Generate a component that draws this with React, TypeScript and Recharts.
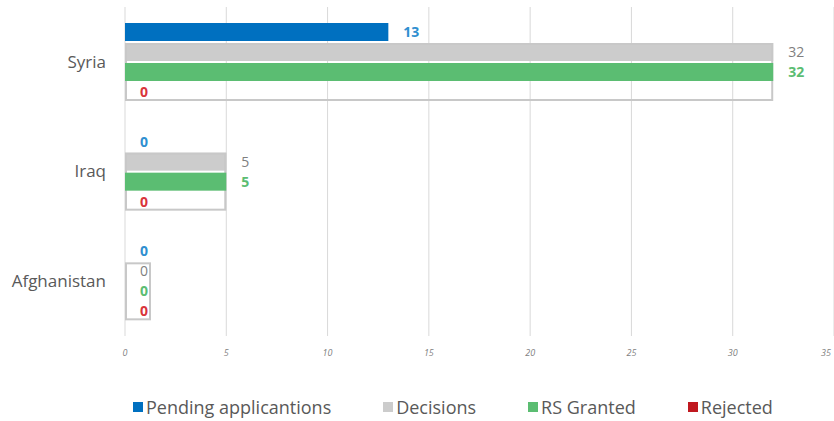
import React from "react"
import { BarChart, Bar, XAxis, YAxis, CartesianGrid } from "recharts"

const countries = ["Syria", "Iraq", "Afghanistan"]
const pending = [13, 0, 0]
const decisions = [32, 5, 0]
const granted = [32, 5, 0]
const rejected = [0, 0, 0]
const xTicks = [0, 5, 10, 15, 20, 25, 30, 35]

const series = [
  { key: "pending", name: "Pending applicantions", color: "#0070C0", label: "#2F8FD0", bold: true },
  { key: "decisions", name: "Decisions", color: "#CCCCCC", label: "#7F7F7F", bold: false },
  { key: "granted", name: "RS Granted", color: "#5BBD72", label: "#5BBD72", bold: true },
  { key: "rejected", name: "Rejected", color: "#C0181F", label: "#D9343A", bold: true },
]

const data = countries.map((c, i) => ({
  country: c,
  pending: pending[i],
  decisions: decisions[i],
  granted: granted[i],
  rejected: rejected[i],
}))

const BAR = 18
const GAP = 2
const FONT = "'Open Sans', sans-serif"

// bar + its value label; the decisions bar also gets a grey frame
// around the granted / rejected rows below it
const makeShape = (s: (typeof series)[number]) => (props: any) => {
  const { x, y, width, height, payload } = props
  const value = payload[s.key]
  const w = Math.max(width, 0)
  return (
    <g>
      {w > 0 && <rect x={x} y={y} width={w} height={height} fill={s.color} />}
      {s.key === "decisions" && (
        <rect
          x={x + 1}
          y={y + 1}
          width={Math.max(w, 26) - 2}
          height={height * 3 + GAP * 2 - 2}
          fill="none"
          stroke="#C8C8C8"
          strokeWidth={2}
        />
      )}
      <text
        x={x + w + 15}
        y={y + height / 2}
        dy="0.35em"
        fill={s.label}
        fontSize={14}
        fontWeight={s.bold ? 700 : 400}
        fontFamily={FONT}
      >
        {value}
      </text>
    </g>
  )
}

const XTick = (props: any) => {
  const { x, y, payload } = props
  return (
    <text x={x} y={y} dy="0.71em" textAnchor="middle" fill="#7F7F7F" fontSize={9} fontStyle="italic" fontFamily={FONT}>
      {payload.value}
    </text>
  )
}

const YTick = (props: any) => {
  const { x, y, payload } = props
  return (
    <text x={x} y={y} dy="0.35em" textAnchor="end" fill="#595959" fontSize={17} fontFamily={FONT}>
      {payload.value}
    </text>
  )
}

export default function App() {
  return (
    <div style={{ position: "absolute", left: 0, top: 0, width: 834, height: 421, background: "#fff" }}>
      <BarChart
        width={834}
        height={421}
        data={data}
        layout="vertical"
        margin={{ top: 7, right: 0, left: 0, bottom: 60 }}
        barSize={BAR}
        barGap={GAP}
      >
        <CartesianGrid horizontal={false} stroke="#D9D9D9" />
        <XAxis
          type="number"
          domain={[0, 35]}
          ticks={xTicks}
          axisLine={false}
          tickLine={false}
          tickMargin={8}
          height={25}
          tick={<XTick />}
        />
        <YAxis
          type="category"
          dataKey="country"
          width={125}
          axisLine={false}
          tickLine={false}
          tickMargin={13}
          tick={<YTick />}
        />
        {series.map((s) => (
          <Bar
            key={s.key}
            dataKey={s.key}
            name={s.name}
            fill={s.color}
            isAnimationActive={false}
            shape={makeShape(s)}
          />
        ))}
      </BarChart>
      <div
        style={{
          position: "absolute",
          top: 395,
          left: 133,
          display: "flex",
          fontFamily: FONT,
          fontSize: 18,
          lineHeight: "24px",
          color: "#595959",
          whiteSpace: "nowrap",
        }}
      >
        {series.map((s) => (
          <div key={s.key} style={{ display: "flex", alignItems: "center", marginRight: 52 }}>
            <span style={{ display: "inline-block", width: 10, height: 10, background: s.color, marginRight: 3 }} />
            <span>{s.name}</span>
          </div>
        ))}
      </div>
    </div>
  )
}
